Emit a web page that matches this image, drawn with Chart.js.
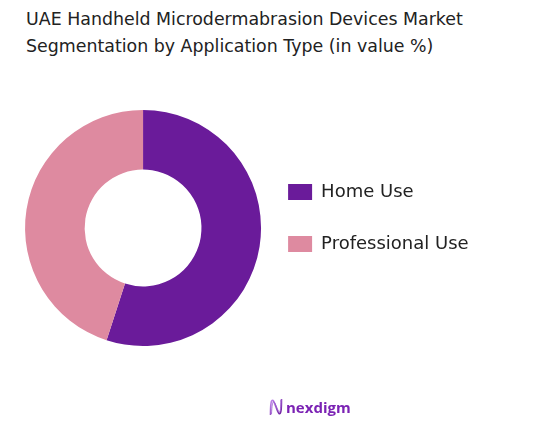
<!DOCTYPE html>
<html>
<head>
<meta charset="utf-8">
<script src="https://cdn.jsdelivr.net/npm/chart.js@4/dist/chart.umd.min.js"></script>
<style>
    body { margin: 0; background: #fff; }
    #wrap { position: relative; width: 536px; height: 433px; overflow: hidden; }
    #myChart { position: absolute; left: 0; top: 0; }
    .title {
        position: absolute; left: 26px; top: 6px;
        font-family: "DejaVu Sans", sans-serif; font-size: 17.4px; line-height: 27px;
        color: #222; white-space: nowrap;
    }
    .logo {
        position: absolute; left: 269px; top: 397px; height: 20px;
        display: flex; align-items: center; gap: 3px;
        font-family: "Open Sans", sans-serif; font-weight: 700; font-size: 15px;
        color: #7b22b4;
    }
</style>
</head>
<body>
<div id="wrap">
    <div class="title">UAE Handheld Microdermabrasion Devices Market<br>Segmentation by Application Type (in value %)</div>
    <canvas id="myChart" width="536" height="433"></canvas>
    <div class="logo">
        <svg width="14" height="18" viewBox="0 0 14 18">
            <defs>
                <linearGradient id="lg" x1="0" y1="0" x2="1" y2="1">
                    <stop offset="0" stop-color="#c58cf0"/>
                    <stop offset="1" stop-color="#6a1b9a"/>
                </linearGradient>
            </defs>
            <path d="M1.5 17 C1.5 6 2 1.5 4 2.5 C6 4 8 14 10 15.5 C12 16.5 12.5 12 12.5 1" fill="none" stroke="url(#lg)" stroke-width="1.6"/>
            <path d="M2.5 16 C3 7 3.5 3 5 4 C7 6 8.5 13 10.5 14 C11.5 14 11.8 9 11.8 2" fill="none" stroke="#9b59d0" stroke-width="0.8"/>
        </svg>
        <span>nexdigm</span>
    </div>
</div>
<script>
// data
const categories = ["Home Use", "Professional Use"];
const shares = [55, 45];

const sliceColors = ["#6a1b9a", "#de8aa0"];

new Chart(document.getElementById("myChart"), {
    type: "doughnut",
    data: {
        labels: categories,
        datasets: [
            {
                data: shares,
                backgroundColor: sliceColors,
                borderWidth: 0,
                radius: 118,
                cutout: "49.5%",
            },
        ],
    },
    options: {
        responsive: false,
        animation: false,
        devicePixelRatio: 1,
        layout: {
            padding: { left: 32, right: 59.8, top: 149, bottom: 126 },
        },
        plugins: {
            tooltip: { enabled: false },
            legend: {
                position: "right",
                align: "start",
                labels: {
                    boxWidth: 24,
                    boxHeight: 16,
                    padding: 34,
                    color: "#222",
                    font: { family: "DejaVu Sans", size: 18 },
                },
            },
        },
    },
});
</script>
</body>
</html>
